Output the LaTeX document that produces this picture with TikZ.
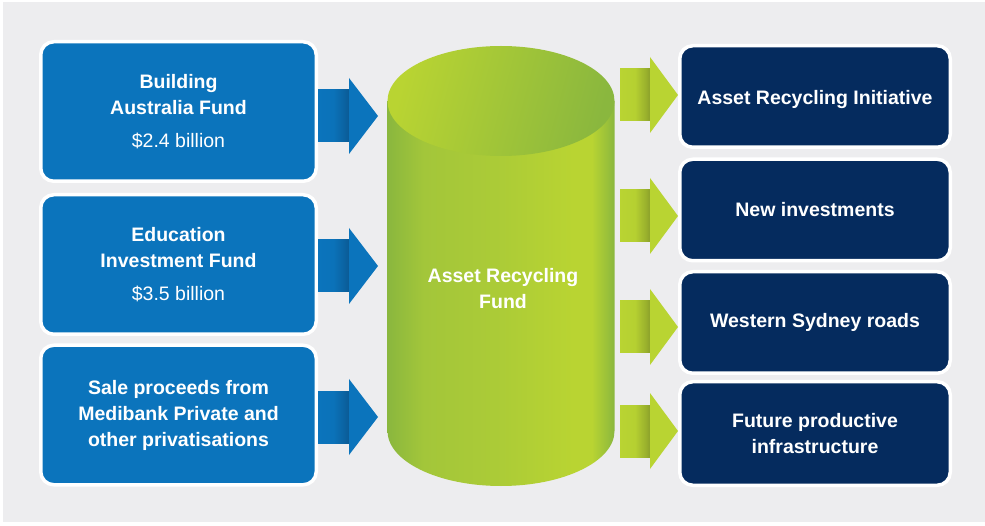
\documentclass[tikz,border=0pt]{standalone}
\usepackage{fontspec}
\setmainfont{Liberation Sans}
\usetikzlibrary{calc}
\definecolor{bg}{HTML}{EDEDEF}
\definecolor{boxblue}{HTML}{0B74BC}
\definecolor{darkblue}{HTML}{0B5A94}
\definecolor{navy}{HTML}{052B5E}
\definecolor{lgreen}{HTML}{B9D432}
\definecolor{mgreen}{HTML}{A3C63A}
\definecolor{dgreen}{HTML}{8AB73E}
\definecolor{agreen}{HTML}{8CA12A}
\pgfdeclarehorizontalshading{cylbody}{100bp}{color(0bp)=(dgreen); color(25bp)=(dgreen); color(33bp)=(mgreen); color(50bp)=(mgreen!60!lgreen); color(66bp)=(lgreen); color(70bp)=(lgreen); color(75bp)=(dgreen); color(100bp)=(dgreen)}
\pgfdeclarehorizontalshading{gshaft}{100bp}{color(0bp)=(lgreen); color(25bp)=(lgreen); color(50bp)=(lgreen!92!agreen); color(68bp)=(agreen!70!lgreen); color(75bp)=(agreen); color(100bp)=(agreen)}
\pgfdeclarehorizontalshading{bshaft}{100bp}{color(0bp)=(boxblue); color(25bp)=(boxblue); color(50bp)=(boxblue!92!darkblue); color(68bp)=(darkblue!70!boxblue); color(75bp)=(darkblue); color(100bp)=(darkblue)}
\tikzset{
  lbox/.style={draw=white, line width=3.5pt, fill=boxblue, rounded corners=13pt,
    minimum width=275.5pt, minimum height=139.5pt, inner sep=0pt, align=center,
    text=white, font=\fontsize{19.5}{26}\selectfont\bfseries},
  rbox/.style={draw=white, line width=3.5pt, fill=navy, rounded corners=13pt,
    minimum width=270.5pt, minimum height=101.5pt, inner sep=0pt, align=center,
    text=white, font=\fontsize{19.5}{26}\selectfont\bfseries},
  fundtext/.style={align=center, text=white, font=\fontsize{19.5}{26}\selectfont\bfseries}
}
% #1 start coordinate, #2 tip coordinate, #3 shaft shading, #4 head colour, #5 head length
\newcommand\blockarrow[5]{%
  \shade[shading=#3] ($(#1)+(0,-26)$) rectangle ($(#2)+(-#5,26)$);
  \fill[#4] ($(#2)+(-#5,-38)$) -- (#2) -- ($(#2)+(-#5,38)$) -- cycle;
}
\begin{document}
\begin{tikzpicture}[x=1pt,y=-1pt]
\useasboundingbox (0,0) rectangle (985,526);
\fill[bg] (3,2) rectangle (985,522);

% left boxes
\node[lbox] (b1) at (178.5,111.5) {Building\\Australia Fund\\[7pt]{\mdseries \$2.4 billion}};
\node[lbox] (b2) at (178.5,264.5) {Education\\Investment Fund\\[7pt]{\mdseries \$3.5 billion}};
\node[lbox] (b3) at (178.5,415) {Sale proceeds from\\Medibank Private and\\other privatisations};

% right boxes
\node[rbox, text height=20pt, text depth=4pt] (r1) at (815,96.5) {Asset Recycling Initiative};
\node[rbox] (r2) at (815,210) {New investments};
\node[rbox] (r3) at (815,322.5) {Western Sydney roads};
\node[rbox,minimum height=103.5pt] (r4) at (815,433.5) {Future productive\\infrastructure};

% cylinder
\shade[shading=cylbody] (387.5,101) -- (387.5,431) arc[start angle=180,end angle=0,x radius=113.5,y radius=55] -- (614.5,101) -- cycle;
\shade[left color=lgreen, right color=dgreen, shading angle=75] (501,101) ellipse[x radius=113.5, y radius=55];
\node[fundtext] (fund) at (503,289) {Asset Recycling\\Fund};

% arrow coordinates
\coordinate (a1s) at (b1.east |- 0,116);
\coordinate (a2s) at (b2.east |- 0,266);
\coordinate (a3s) at (b3.east |- 0,417);
\coordinate (a1e) at (378,116);
\coordinate (a2e) at (378,266);
\coordinate (a3e) at (378,417);
\coordinate (c1s) at (620,95);
\coordinate (c2s) at (620,216);
\coordinate (c3s) at (620,327);
\coordinate (c4s) at (620,431);
\coordinate (c1e) at (r1.west |- c1s);
\coordinate (c2e) at (r2.west |- c2s);
\coordinate (c3e) at (r3.west |- c3s);
\coordinate (c4e) at (r4.west |- c4s);

\blockarrow{a1s}{a1e}{bshaft}{boxblue}{29}
\blockarrow{a2s}{a2e}{bshaft}{boxblue}{29}
\blockarrow{a3s}{a3e}{bshaft}{boxblue}{29}
\blockarrow{c1s}{c1e}{gshaft}{lgreen}{28}
\blockarrow{c2s}{c2e}{gshaft}{lgreen}{28}
\blockarrow{c3s}{c3e}{gshaft}{lgreen}{28}
\blockarrow{c4s}{c4e}{gshaft}{lgreen}{28}
\end{tikzpicture}
\end{document}
